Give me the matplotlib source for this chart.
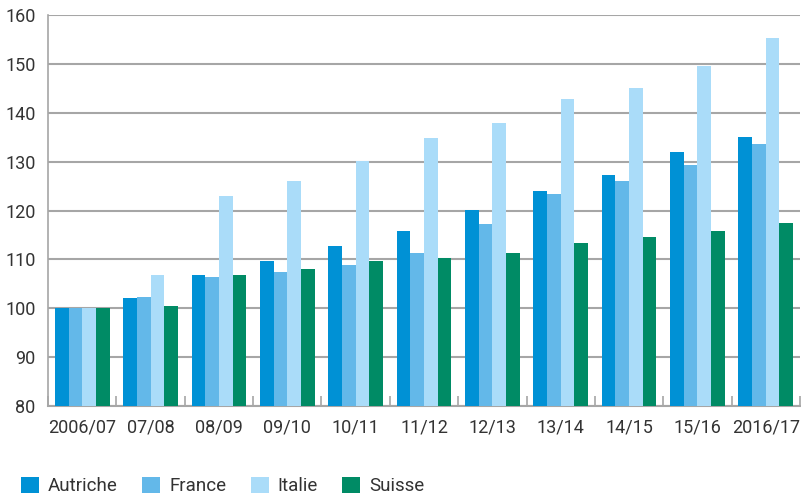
import numpy as np
import matplotlib
matplotlib.use("Agg")
import matplotlib.pyplot as plt
from matplotlib.ticker import MultipleLocator, FixedLocator

# --- Data (index, 2006/07 = 100) ---
seasons = ["2006/07", "07/08", "08/09", "09/10", "10/11", "11/12",
           "12/13", "13/14", "14/15", "15/16", "2016/17"]
autriche = [100, 102.1, 106.8, 109.6, 112.7, 115.8, 120.1, 124.0, 127.2, 131.9, 135.0]
france = [100, 102.3, 106.4, 107.4, 108.8, 111.3, 117.2, 123.4, 126.0, 129.3, 133.6]
italie = [100, 106.8, 122.9, 126.0, 130.1, 134.8, 137.9, 142.8, 145.0, 149.5, 155.3]
suisse = [100, 100.4, 106.8, 108.0, 109.6, 110.3, 111.3, 113.3, 114.6, 115.8, 117.4]

series = [("Autriche", autriche, "#0091d5"),
          ("France", france, "#63b8e9"),
          ("Italie", italie, "#aadcf9"),
          ("Suisse", suisse, "#008b65")]

plt.rcParams["font.family"] = ["Roboto", "DejaVu Sans"]
text_color = "#333333"
grid_color = "#a6a6a6"

fig = plt.figure(figsize=(8.01, 4.97), dpi=100)
ax = fig.add_axes([48 / 801, 1 - 406 / 497, 752 / 801, 391 / 497])

x = np.arange(len(seasons))
w = 0.2
for i, (name, vals, col) in enumerate(series):
    ax.bar(x + (i - 1.5) * w, np.array(vals) - 80, width=w, bottom=80,
           color=col, label=name, zorder=3)

ax.set_xlim(-0.5, len(seasons) - 0.5)
ax.set_ylim(80, 160)
ax.yaxis.set_major_locator(MultipleLocator(10))
ax.grid(axis="y", color=grid_color, linewidth=1.5, zorder=0)

for side in ["top", "right"]:
    ax.spines[side].set_visible(False)
ax.spines["left"].set_color(grid_color)
ax.spines["left"].set_linewidth(1.2)
ax.spines["bottom"].set_color(grid_color)
ax.spines["bottom"].set_linewidth(1.5)

ax.set_xticks(x)
ax.set_xticklabels(seasons)
ax.xaxis.set_minor_locator(FixedLocator(np.arange(-0.5, len(seasons), 1.0)))
ax.tick_params(axis="x", which="major", length=0, pad=9,
               labelsize=13, labelcolor=text_color)
ax.tick_params(axis="x", which="minor", direction="in", length=7,
               width=1.2, color=grid_color)
ax.tick_params(axis="y", length=0, pad=9, labelsize=13, labelcolor=text_color)

fig.legend(loc="center left", bbox_to_anchor=(0.026, 0.022), ncol=4,
           frameon=False, fontsize=13.5, labelcolor=text_color,
           handlelength=0.96, handleheight=0.96, handletextpad=0.48,
           columnspacing=1.3, borderpad=0, borderaxespad=0)

fig.savefig("out.png", dpi=100)
